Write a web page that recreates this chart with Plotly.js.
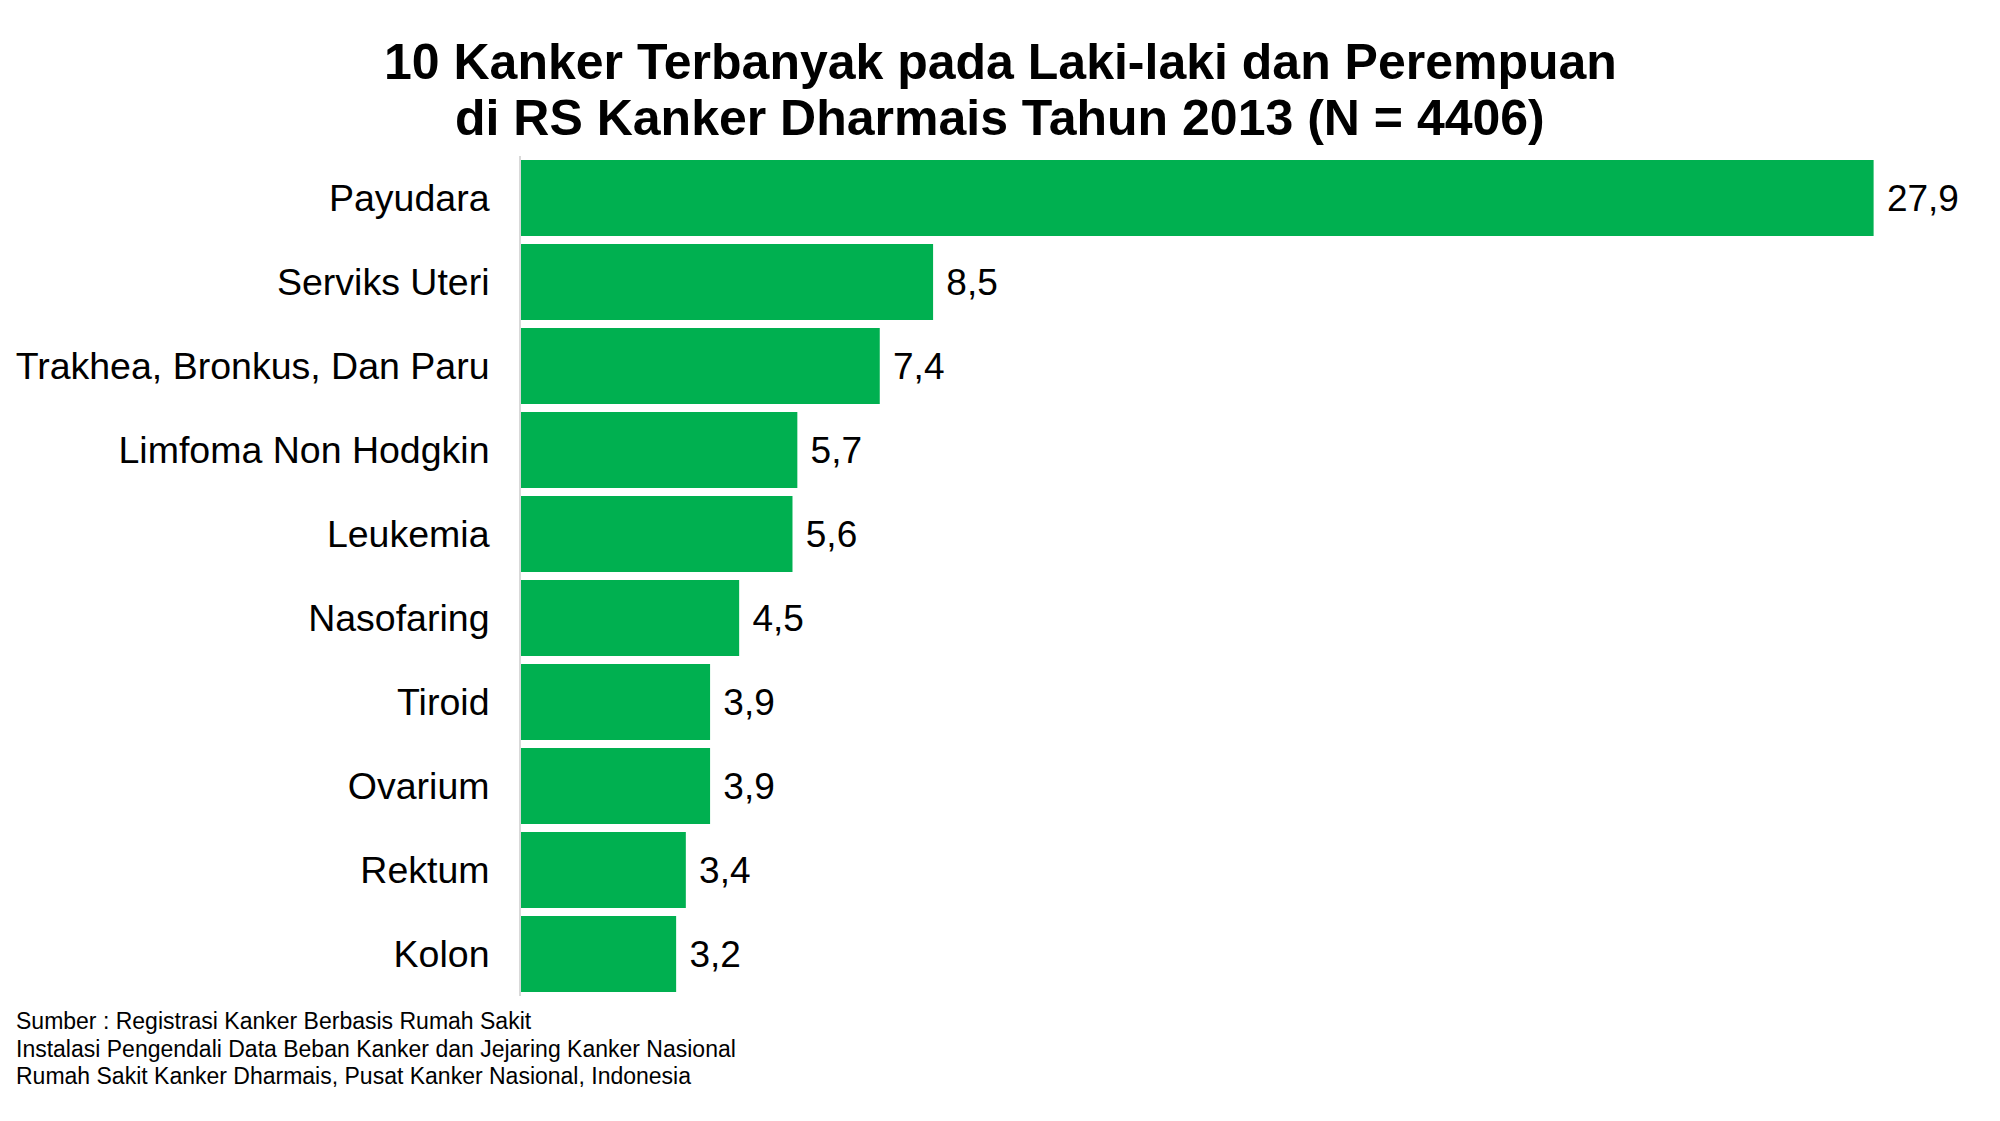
<!DOCTYPE html>
<html>
<head>
<meta charset="utf-8">
<script src="https://cdn.plot.ly/plotly-3.0.1.min.js"></script>
<style>html,body{margin:0;padding:0;background:#fff;}#chart{width:2000px;height:1121px;}</style>
</head>
<body>
<div id="chart"></div>
<script>
const categories = ["Payudara", "Serviks Uteri", "Trakhea, Bronkus, Dan Paru", "Limfoma Non Hodgkin", "Leukemia", "Nasofaring", "Tiroid", "Ovarium", "Rektum", "Kolon"];
const values = [27.9, 8.5, 7.4, 5.7, 5.6, 4.5, 3.9, 3.9, 3.4, 3.2];
const titleLines = ["10 Kanker Terbanyak pada Laki-laki dan Perempuan", "di RS Kanker Dharmais Tahun 2013 (N = 4406)"];
const sourceLines = ["Sumber : Registrasi Kanker Berbasis Rumah Sakit", "Instalasi Pengendali Data Beban Kanker dan Jejaring Kanker Nasional", "Rumah Sakit Kanker Dharmais, Pusat Kanker Nasional, Indonesia"];

const FONT = '"Liberation Sans", Arial, sans-serif';
const W = 2000, H = 1121;
const ml = 521, mr = 27, mt = 156, mb = 125;
const plotW = W - ml - mr;
const plotH = H - mt - mb;
const px2py = p => (H - mb - p) / plotH;
const px2px = p => (p - ml) / plotW;

const trace = {
  type: 'bar',
  orientation: 'h',
  y: categories,
  x: values,
  marker: {color: '#00b050', line: {width: 0}},
  text: values.map(v => '\u00a0' + v.toFixed(1).replace('.', ',')),
  textposition: 'outside',
  cliponaxis: false,
  textfont: {family: FONT, size: 37, color: '#000'},
  hoverinfo: 'none'
};

const annotations = [];
const titleCenters = [62, 118];
titleLines.forEach((t, i) => annotations.push({
  text: t, xref: 'paper', yref: 'paper',
  x: px2px(1000), y: px2py(titleCenters[i]),
  xanchor: 'center', yanchor: 'middle', showarrow: false,
  font: {family: FONT, size: 50, color: '#000', weight: 'bold'}
}));
const srcCenters = [1021, 1049, 1076];
sourceLines.forEach((t, i) => annotations.push({
  text: t, xref: 'paper', yref: 'paper',
  x: px2px(14), y: px2py(srcCenters[i]),
  xanchor: 'left', yanchor: 'middle', align: 'left', showarrow: false,
  font: {family: FONT, size: 23, color: '#000'}
}));

const layout = {
  width: W, height: H,
  margin: {l: ml, r: mr, t: mt, b: mb, pad: 0},
  paper_bgcolor: '#fff', plot_bgcolor: '#fff',
  font: {family: FONT, color: '#000'},
  bargap: 0.095,
  showlegend: false,
  xaxis: {
    range: [0, 29.95], visible: false, showgrid: false, zeroline: false, fixedrange: true
  },
  yaxis: {
    type: 'category',
    range: [9.5, -0.5],
    showgrid: false, zeroline: false,
    showline: true, linecolor: '#d9d9d9', linewidth: 2,
    ticks: '',
    ticklabelstandoff: 22,
    tickfont: {family: FONT, size: 37.5, color: '#000'}
  },
  annotations: annotations
};

Plotly.newPlot('chart', [trace], layout, {displayModeBar: false, staticPlot: true});
</script>
</body>
</html>
